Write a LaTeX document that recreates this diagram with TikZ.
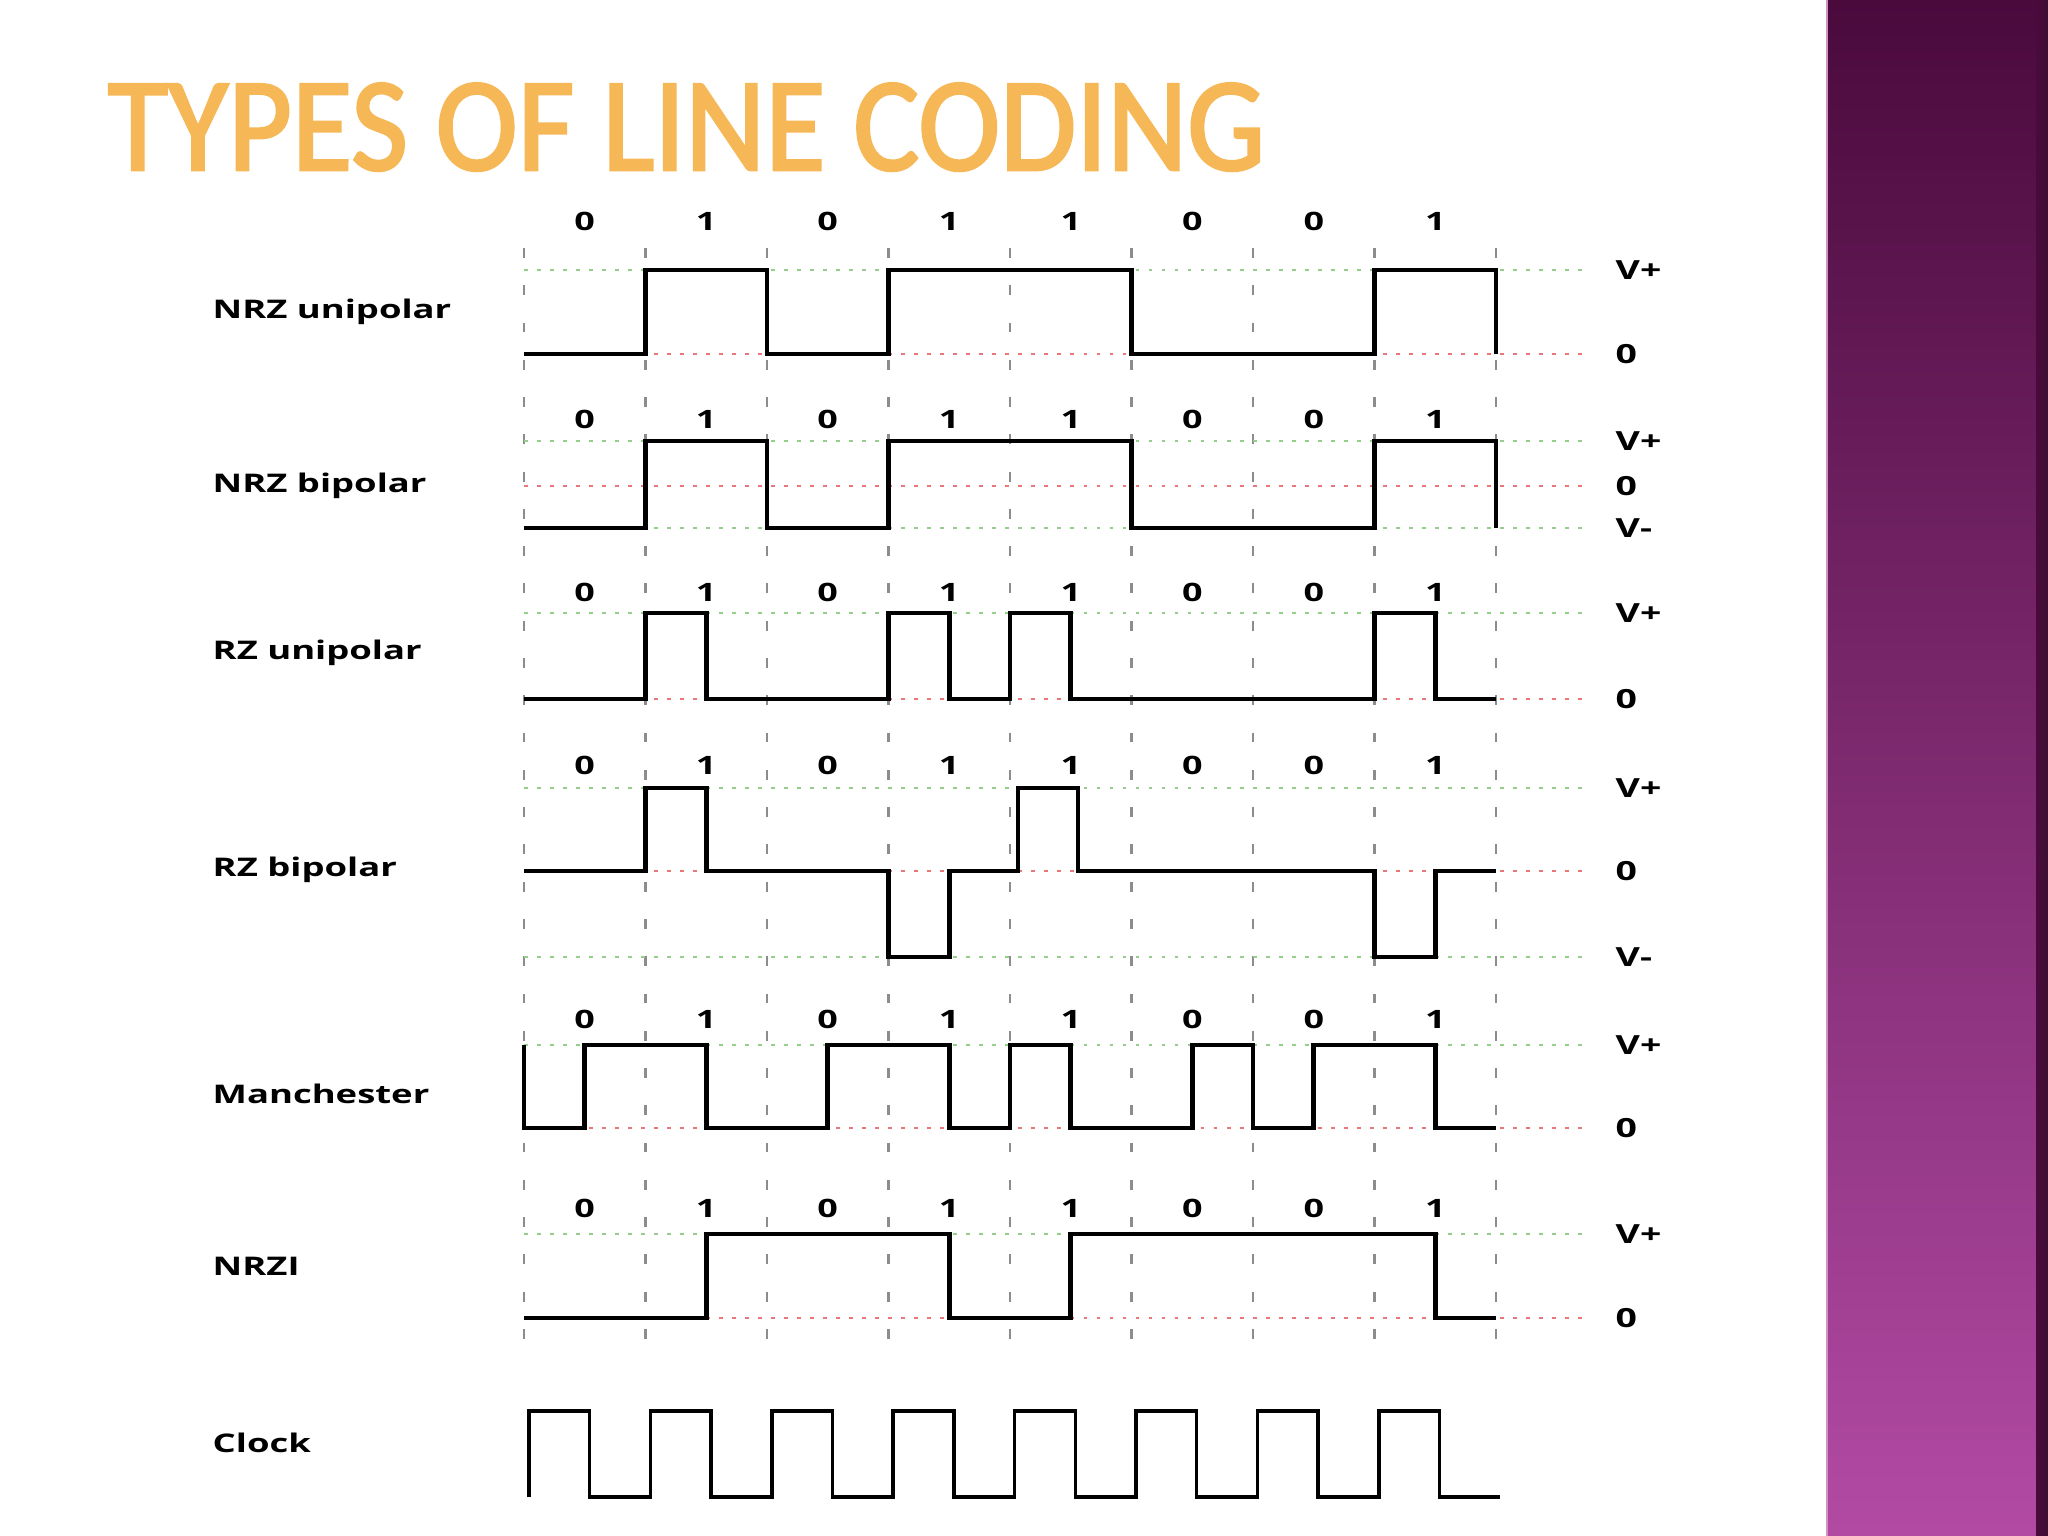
\documentclass[tikz,border=0pt]{standalone}
\usepackage{fontspec}
\usetikzlibrary{positioning}
\newfontfamily\lblfont{Open Sans}[FakeStretch=1.42]
\newfontfamily\titlefont{Carlito}[FakeStretch=0.925, FakeBold=2]
\definecolor{TitleFill}{RGB}{246,184,86}
\definecolor{BarTop}{RGB}{74,10,60}
\definecolor{BarBot}{RGB}{178,74,164}
\definecolor{BarEdge}{RGB}{60,16,50}
\definecolor{GridGray}{RGB}{140,140,140}
\definecolor{LevelGreen}{RGB}{150,205,140}
\definecolor{LevelRed}{RGB}{232,120,120}
\tikzset{
  wave/.style={line width=1.3pt, line join=miter},
  clk/.style={line width=1pt, line join=miter},
  tick/.style={GridGray, line width=0.8pt, dash pattern=on 2.8pt off 7.8pt},
  vlevel/.style={LevelGreen, line width=0.8pt, dash pattern=on 1.1pt off 2.6pt},
  zlevel/.style={LevelRed, line width=0.8pt, dash pattern=on 1.1pt off 2.6pt},
  rowlabel/.style={anchor=west, inner sep=0pt, font=\lblfont\bfseries\fontsize{7.3}{9}\selectfont},
  bitlabel/.style={inner sep=0pt, font=\lblfont\bfseries\fontsize{7.2}{9}\selectfont},
  levellabel/.style={anchor=west, inner sep=0pt, font=\lblfont\bfseries\fontsize{7.5}{9}\selectfont},
}

\begin{document}
\begin{tikzpicture}[x=0.01cm, y=-0.01cm]
	\useasboundingbox (0,0) rectangle (2048,1536);
	\fill[white] (0,0) rectangle (2048,1536);
	% side bar
	\shade[top color=BarTop, bottom color=BarBot] (1826,0) rectangle (2048,1536);
	\shade[left color=BarBot!0!BarTop, right color=BarEdge] (2036,0) rectangle (2048,1536);
	\draw[BarBot!60!white, line width=0.6pt] (1827,0) -- (1827,1536);
	% title
	\node[anchor=base west, inner sep=0pt, text=TitleFill,
		font=\titlefont\fontsize{38}{40}\selectfont] (title) at (107,170) {TYPES OF LINE CODING};
	% bit boundaries
	\foreach \i in {0,...,8}
		\draw[tick] (524+121.5*\i,248) -- (524+121.5*\i,1352);
	% reference levels
	\foreach \y in {270,441,528,613,788,957,1045,1234}
		\draw[vlevel] (524,\y) -- (1587,\y);
	\foreach \y in {354,486,699,871,1128,1318}
		\draw[zlevel] (524,\y) -- (1587,\y);
	% bit values
	\foreach \row/\yb in {nrzu/221, nrzb/419, rzu/592, rzb/765, man/1019, nrzi/1208}
		\foreach \b [count=\i from 0] in {0,1,0,1,1,0,0,1}
			\node[bitlabel] (\row-b\i) at (584.75+121.5*\i,\yb) {\b};
	% row names
	\node[rowlabel] (nrzu) at (212,312) {NRZ unipolar};
	\node[rowlabel] (nrzb) at (212,486) {NRZ bipolar};
	\node[rowlabel] (rzu) at (212,653) {RZ unipolar};
	\node[rowlabel] (rzb) at (212,870) {RZ bipolar};
	\node[rowlabel] (man) at (212,1094) {Manchester};
	\node[rowlabel] (nrzi) at (212,1266) {NRZI};
	\node[rowlabel] (clock) at (212,1443) {Clock};
	% level names
	\node[levellabel] (nrzu-vp) at (1615,270) {V+};
	\node[levellabel] (nrzu-z) at (1615,354) {0};
	\node[levellabel] (nrzb-vp) at (1615,441) {V+};
	\node[levellabel] (nrzb-z) at (1615,486) {0};
	\node[levellabel] (nrzb-vm) at (1615,528) {V-};
	\node[levellabel] (rzu-vp) at (1615,613) {V+};
	\node[levellabel] (rzu-z) at (1615,699) {0};
	\node[levellabel] (rzb-vp) at (1615,788) {V+};
	\node[levellabel] (rzb-z) at (1615,871) {0};
	\node[levellabel] (rzb-vm) at (1615,957) {V-};
	\node[levellabel] (man-vp) at (1615,1045) {V+};
	\node[levellabel] (man-z) at (1615,1128) {0};
	\node[levellabel] (nrzi-vp) at (1615,1234) {V+};
	\node[levellabel] (nrzi-z) at (1615,1318) {0};
	% waveforms
	\draw[wave] (524,354) -| (645.5,270) -| (767,354) -| (888.5,270) -| (1131.5,354) -| (1374.5,270) -| (1496,354);
	\draw[wave] (524,528) -| (645.5,441) -| (767,528) -| (888.5,441) -| (1131.5,528) -| (1374.5,441) -| (1496,528);
	\draw[wave] (524,699) -| (645.5,613) -| (706.25,699) -| (888.5,613) -| (949.25,699) -| (1010,613) -| (1070.75,699)
		-| (1374.5,613) -| (1435.25,699) -- (1496,699);
	\draw[wave] (524,871) -| (645.5,788) -| (706.25,871) -| (888.5,957) -| (949.25,871) -| (1018,788) -| (1078,871)
		-| (1374.5,957) -| (1435.25,871) -- (1496,871);
	\draw[wave] (524,1045) -- (524,1128) -| (584.75,1045) -| (706.25,1128) -| (827.75,1045) -| (949.25,1128) -| (1010,1045)
		-| (1070.75,1128) -| (1192.25,1045) -| (1253,1128) -| (1313.75,1045) -| (1435.25,1128) -- (1496,1128);
	\draw[wave] (524,1318) -| (706.25,1234) -| (949.25,1318) -| (1070.75,1234) -| (1435.25,1318) -- (1496,1318);
	\draw[clk] (529,1497) \foreach \i in {0,...,7} { -- ++(0,-86) -- ++(60.7,0) -- ++(0,86) -- ++(60.7,0) };
\end{tikzpicture}
\end{document}
